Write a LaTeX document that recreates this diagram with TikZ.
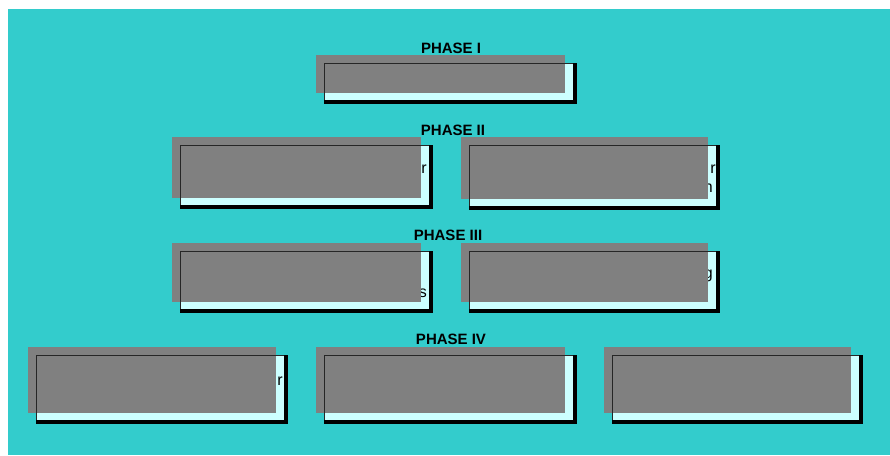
\documentclass[tikz,border=0pt]{standalone}
\usepackage{fontspec}
\setmainfont{Liberation Sans}
\definecolor{bgteal}{HTML}{33CCCC}
\definecolor{lcyan}{HTML}{CCFFFF}
\definecolor{cover}{HTML}{808080}
\tikzset{
  lbox/.style={draw=black, line width=1pt, fill=lcyan, inner sep=0pt, outer sep=0pt, anchor=north west},
  phaselabel/.style={font=\fontsize{15}{17}\selectfont\bfseries, inner sep=0pt, text=black},
  frag/.style={font=\fontsize{16}{18}\selectfont, inner sep=0pt, anchor=base east, text=black},
  edge/.style={line width=1pt, draw=black!85}
}
\newcommand{\framebars}[1]{%
  \fill[black] (#1.north east) rectangle ([shift={(4,4)}]#1.south east);
  \fill[black] (#1.south west) rectangle ([shift={(4,4)}]#1.south east);}
\newcommand{\coverbox}[1]{%
  \fill[cover] ([shift={(-8,-8)}]#1.north west) rectangle ([shift={(-8,-7)}]#1.south east);
  \draw[edge] (#1.south west) |- (#1.north east);}
\begin{document}
\begin{tikzpicture}[x=1pt,y=-1pt]
\useasboundingbox (0,0) rectangle (890,455);
\fill[white] (0,0) rectangle (890,455);
\fill[bgteal] (8,9) rectangle (890,455);
% labels
\node[phaselabel] (l1) at (451,48) {PHASE I};
\node[phaselabel] (l2) at (453,130) {PHASE II};
\node[phaselabel] (l3) at (448,235) {PHASE III};
\node[phaselabel] (l4) at (451,339) {PHASE IV};
% boxes
\node[lbox, minimum width=249, minimum height=37] (p1) at (324,63) {};
\node[lbox, minimum width=249, minimum height=60] (p2a) at (180,145) {};
\node[lbox, minimum width=247, minimum height=61] (p2b) at (469,145) {};
\node[lbox, minimum width=249, minimum height=58] (p3a) at (180,251) {};
\node[lbox, minimum width=247, minimum height=58] (p3b) at (469,251) {};
\node[lbox, minimum width=248, minimum height=65] (p4a) at (36,355) {};
\node[lbox, minimum width=249, minimum height=65] (p4b) at (324,355) {};
\node[lbox, minimum width=247, minimum height=65] (p4c) at (612,355) {};
\framebars{p1}
\framebars{p2a}
\framebars{p2b}
\framebars{p3a}
\framebars{p3b}
\framebars{p4a}
\framebars{p4b}
\framebars{p4c}
% visible text fragments
\node[frag] (f1) at (427,173) {r};
\node[frag] (f2) at (716,173) {r};
\node[frag] (f3) at (713,192) {n};
\node[frag] (f4) at (427,297) {s};
\node[frag] (f5) at (713,278) {g};
\node[frag] (f6) at (283,385) {r};
% covers
\coverbox{p1}
\coverbox{p2a}
\coverbox{p2b}
\coverbox{p3a}
\coverbox{p3b}
\coverbox{p4a}
\coverbox{p4b}
\coverbox{p4c}
\end{tikzpicture}
\end{document}
